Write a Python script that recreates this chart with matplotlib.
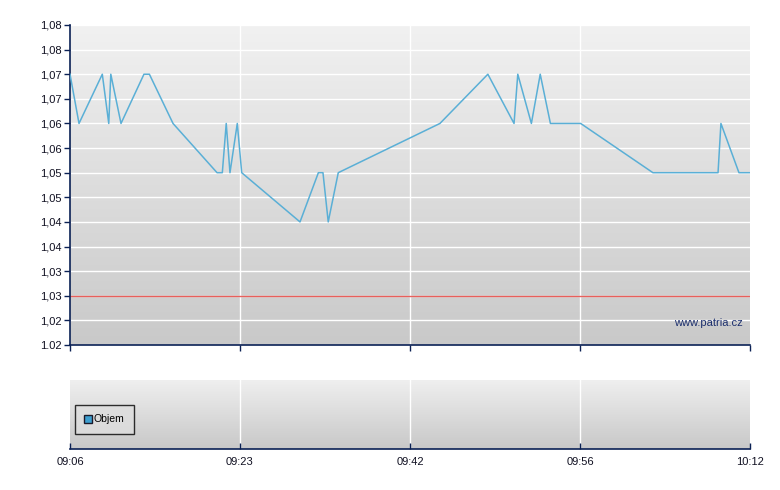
import numpy as np
import matplotlib
matplotlib.use("Agg")
import matplotlib.pyplot as plt
from matplotlib.lines import Line2D

plt.rcParams['font.family'] = ['Liberation Sans', 'DejaVu Sans']

# ---- data ----
# x positions expressed in tick-interval units (0 = 09:06 ... 4 = 10:12)
price_x = [0.000, 0.053, 0.190, 0.228, 0.240, 0.300, 0.435, 0.467, 0.606,
           0.865, 0.896, 0.919, 0.941, 0.984, 1.010,
           1.353, 1.461, 1.488, 1.519, 1.578,
           2.176, 2.458, 2.612, 2.634, 2.714, 2.766, 2.826, 3.004,
           3.429, 3.812, 3.829, 3.935, 4.000]
price_y = [1.0725, 1.0625, 1.0725, 1.0625, 1.0725, 1.0625, 1.0725, 1.0725, 1.0625,
           1.0525, 1.0525, 1.0625, 1.0525, 1.0625, 1.0525,
           1.0425, 1.0525, 1.0525, 1.0425, 1.0525,
           1.0625, 1.0725, 1.0625, 1.0725, 1.0625, 1.0725, 1.0625, 1.0625,
           1.0525, 1.0525, 1.0625, 1.0525, 1.0525]
prev_close = 1.0275
y_ticks = [1.0175, 1.0225, 1.0275, 1.0325, 1.0375, 1.0425, 1.0475,
           1.0525, 1.0575, 1.0625, 1.0675, 1.0725, 1.0775, 1.0825]
y_labels = ["1.02", "1,02", "1,03", "1,03", "1,04", "1,04", "1,05",
            "1,05", "1,06", "1,06", "1,07", "1,07", "1,08", "1,08"]
x_ticks = [0, 1, 2, 3, 4]
x_labels = ["09:06", "09:23", "09:42", "09:56", "10:12"]

NAVY = '#0b2155'
W, H = 780, 490
fig = plt.figure(figsize=(W / 100, H / 100), dpi=100)

def axes_px(x0, y0, x1, y1):
    return fig.add_axes([x0 / W, 1 - y1 / H, (x1 - x0) / W, (y1 - y0) / H])

def gradient(ax, top, bottom):
    t = np.array(matplotlib.colors.to_rgb(top))
    b = np.array(matplotlib.colors.to_rgb(bottom))
    f = np.linspace(0, 1, 256)[:, None]
    img = (t * (1 - f) + b * f)[:, None, :]
    ax.imshow(img, extent=[0, 1, 0, 1], transform=ax.transAxes,
              aspect='auto', zorder=0, interpolation='bilinear')

# ---- main price panel ----
ax = axes_px(70, 25, 750, 345)
gradient(ax, '#f1f1f1', '#c9c9c9')
ax.set_xlim(0, 4)
ax.set_ylim(y_ticks[0], y_ticks[-1])
for yv in y_ticks:
    ax.axhline(yv, color='white', lw=1.0, zorder=1)
for xv in x_ticks[1:-1]:
    ax.axvline(xv, color='white', lw=1.0, zorder=1)
ax.axhline(prev_close, color='#e8605c', lw=1.0, zorder=2)
ax.plot(price_x, price_y, color='#5aafd6', lw=1.1, zorder=3)
ax.set_yticks(y_ticks)
ax.set_yticklabels(y_labels)
ax.set_xticks(x_ticks)
ax.set_xticklabels([])
for s in ['top', 'right']:
    ax.spines[s].set_visible(False)
for s in ['left', 'bottom']:
    ax.spines[s].set_color(NAVY)
    ax.spines[s].set_linewidth(1.2)
ax.tick_params(axis='both', colors=NAVY, direction='out', length=4, width=1,
               labelsize=8, labelcolor='#111122', pad=2)
ax.text(0.989, 0.07, 'www.patria.cz', transform=ax.transAxes, ha='right',
        va='center', fontsize=8, color='#1c2f6e', zorder=4)

# ---- volume panel ----
av = axes_px(70, 380, 750, 449)
gradient(av, '#efefef', '#c8c8c8')
av.set_xlim(0, 4)
av.set_ylim(0, 1)
for xv in x_ticks[1:-1]:
    av.axvline(xv, color='white', lw=1.0, zorder=1)
av.set_yticks([])
av.set_xticks(x_ticks)
av.set_xticklabels(x_labels)
for s in ['top', 'right', 'left']:
    av.spines[s].set_visible(False)
av.spines['bottom'].set_color(NAVY)
av.spines['bottom'].set_linewidth(1.2)
av.tick_params(axis='x', colors=NAVY, direction='in', length=4, width=1,
               labelsize=8, labelcolor='#111122', pad=6)
handle = Line2D([], [], marker='s', linestyle='none', markersize=6,
                markerfacecolor='#3d9fd0', markeredgecolor='#1a1a2a')
leg = av.legend([handle], ['Objem'], loc='center left', bbox_to_anchor=(0.0, 0.43),
                frameon=True, fancybox=False, fontsize=7.5, handlelength=0.6,
                handletextpad=0.3, borderpad=0.9, edgecolor='black')
leg.get_frame().set_linewidth(1.0)
leg.get_frame().set_facecolor('#dedede')

fig.savefig('out.png', dpi=100)
